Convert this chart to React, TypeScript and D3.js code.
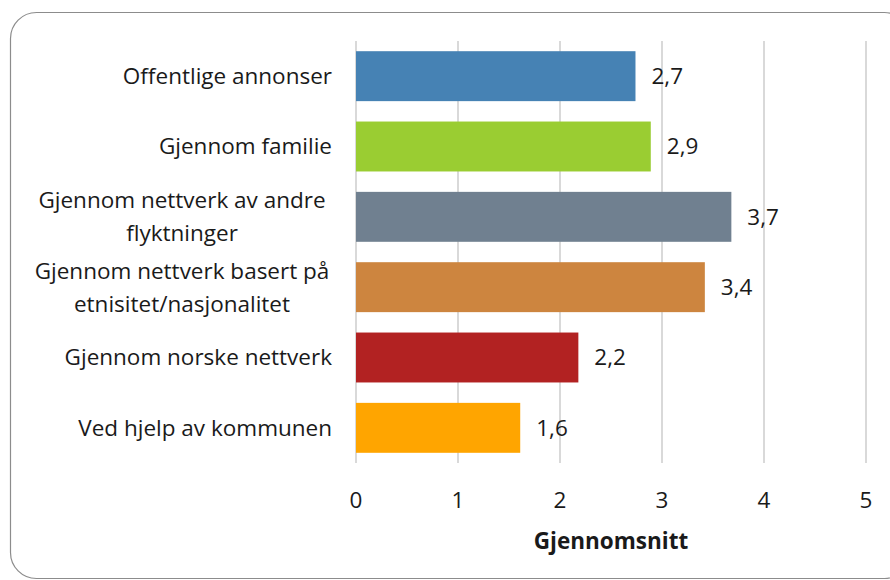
import React from "react";
import * as d3 from "d3";

const categories: string[][] = [
  ["Offentlige annonser"],
  ["Gjennom familie"],
  ["Gjennom nettverk av andre", "flyktninger"],
  ["Gjennom nettverk basert på", "etnisitet/nasjonalitet"],
  ["Gjennom norske nettverk"],
  ["Ved hjelp av kommunen"],
];
const values: number[] = [2.74, 2.89, 3.68, 3.42, 2.18, 1.61];
const colors: string[] = ["#4682B4", "#9ACD32", "#708090", "#CD853F", "#B22222", "#FFA500"];
const ticks: number[] = [0, 1, 2, 3, 4, 5];
const axisTitle = "Gjennomsnitt";

export default function App() {
  const W = 890, H = 580;
  const x = d3.scaleLinear().domain([0, 5]).range([356, 866]);
  const y = d3.scaleBand<number>().domain(d3.range(values.length)).range([41, 463]).paddingInner(0.29).paddingOuter(0.145);
  const fmt = (v: number) => d3.format(".1f")(v).replace(".", ",");
  const font = "'Open Sans', sans-serif";
  const fs = 22.5;
  const lh = 33;
  return (
    <svg width={W} height={H} style={{ position: "absolute", left: 0, top: 0 }} fontFamily={font}>
      <rect x={0} y={0} width={W} height={H} fill="#fff" />
      <rect x={10.5} y={12.5} width={900} height={566} rx={26} ry={26} fill="#fff" stroke="#8c8c8c" strokeWidth={1.2} />
      {ticks.map((t) => (
        <line key={t} x1={x(t)} x2={x(t)} y1={41} y2={463} stroke="#d9d9d9" strokeWidth={2} />
      ))}
      {values.map((v, i) => {
        const cy = y(i)! + y.bandwidth() / 2;
        const lines = categories[i];
        const multi = lines.length > 1;
        return (
          <g key={i}>
            <rect x={x(0)} y={y(i)} width={x(v) - x(0)} height={y.bandwidth()} fill={colors[i]} />
            <text x={x(v) + 16} y={cy} dy="0.35em" fontSize={fs} fill="#1a1a1a">
              {fmt(v)}
            </text>
            {lines.map((line, j) => (
              <text
                key={j}
                x={multi ? 182 : 332}
                y={cy + (j - (lines.length - 1) / 2) * lh}
                dy="0.35em"
                textAnchor={multi ? "middle" : "end"}
                fontSize={fs}
                fill="#1a1a1a"
              >
                {line}
              </text>
            ))}
          </g>
        );
      })}
      {ticks.map((t) => (
        <text key={t} x={x(t)} y={500} dy="0.35em" textAnchor="middle" fontSize={fs} fill="#1a1a1a">
          {t}
        </text>
      ))}
      <text x={611} y={541} dy="0.35em" textAnchor="middle" fontSize={fs} fontWeight="bold" fill="#1a1a1a">
        {axisTitle}
      </text>
    </svg>
  );
}
